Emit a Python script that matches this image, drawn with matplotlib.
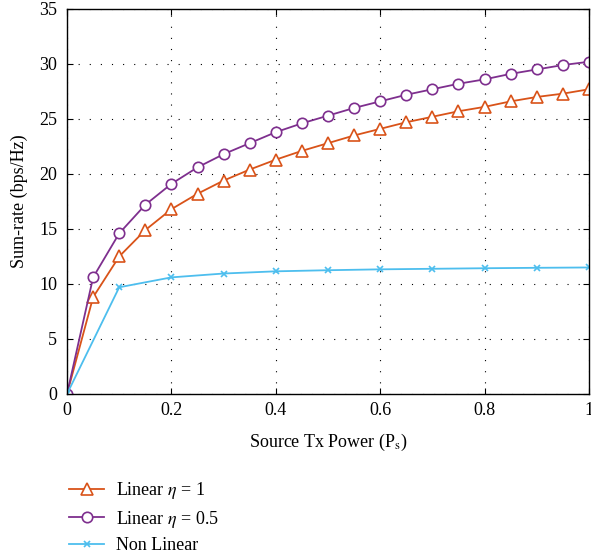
import numpy as np
import matplotlib.pyplot as plt

plt.rcParams['font.family'] = ['Liberation Serif', 'DejaVu Serif']
plt.rcParams['mathtext.fontset'] = 'stix'

# data
x_lin = [0, 0.05, 0.1, 0.15, 0.2, 0.25, 0.3, 0.35, 0.4, 0.45, 0.5,
         0.55, 0.6, 0.65, 0.7, 0.75, 0.8, 0.85, 0.9, 0.95, 1.0]
lin_eta1 = [0, 8.8, 12.5, 14.9, 16.8, 18.2, 19.4, 20.4, 21.3, 22.1, 22.8,
            23.5, 24.1, 24.7, 25.2, 25.7, 26.1, 26.6, 27.0, 27.3, 27.7]
lin_eta05 = [0, 10.6, 14.6, 17.2, 19.1, 20.6, 21.8, 22.8, 23.8, 24.6, 25.3,
             26.0, 26.6, 27.2, 27.7, 28.2, 28.6, 29.1, 29.5, 29.9, 30.2]
x_nl = [0, 0.1, 0.2, 0.3, 0.4, 0.5, 0.6, 0.7, 0.8, 0.9, 1.0]
non_lin = [0, 9.7, 10.6, 10.95, 11.15, 11.25, 11.33, 11.38, 11.43, 11.47, 11.5]

fig = plt.figure(figsize=(5.91, 5.59), dpi=100)
ax = fig.add_axes([0.1134, 0.2952, 0.8832, 0.6888])

ax.plot(x_lin, lin_eta1, color='#D95319', marker='^', markersize=8,
        markerfacecolor='white', markeredgewidth=1.2, lw=1.3, label=r'Linear $\eta$ = 1')
ax.plot(x_lin, lin_eta05, color='#7E2F8E', marker='o', markersize=7.5,
        markerfacecolor='white', markeredgewidth=1.2, lw=1.3, label=r'Linear $\eta$ = 0.5')
ax.plot(x_nl, non_lin, color='#4DBEEE', marker='x', markersize=4.5,
        markeredgewidth=1.2, lw=1.3, label='Non Linear')

ax.set_xlim(0, 1)
ax.set_ylim(0, 35)
ax.set_xticks([0, 0.2, 0.4, 0.6, 0.8, 1])
ax.set_xticklabels(['0', '0.2', '0.4', '0.6', '0.8', '1'])
ax.set_yticks(np.arange(0, 36, 5))
ax.grid(True, linestyle=(0, (1, 9)), color='black', lw=0.8)
ax.tick_params(direction='in', top=True, right=True, labelsize=13, length=4.5)
ax.tick_params(axis='y', pad=7)
ax.tick_params(axis='x', pad=6)
for s in ax.spines.values():
    s.set_linewidth(1.0)

ax.set_xlabel(r'Source Tx Power (P$_\mathrm{s}$)', fontsize=13, labelpad=9)
ax.set_ylabel('Sum-rate (bps/Hz)', fontsize=13, labelpad=8)

fig.legend(loc='lower left', bbox_to_anchor=(0.09, -0.02), frameon=False,
           fontsize=13, handlelength=1.9, handletextpad=0.7, labelspacing=0.4)

fig.savefig('out.png', dpi=100)
